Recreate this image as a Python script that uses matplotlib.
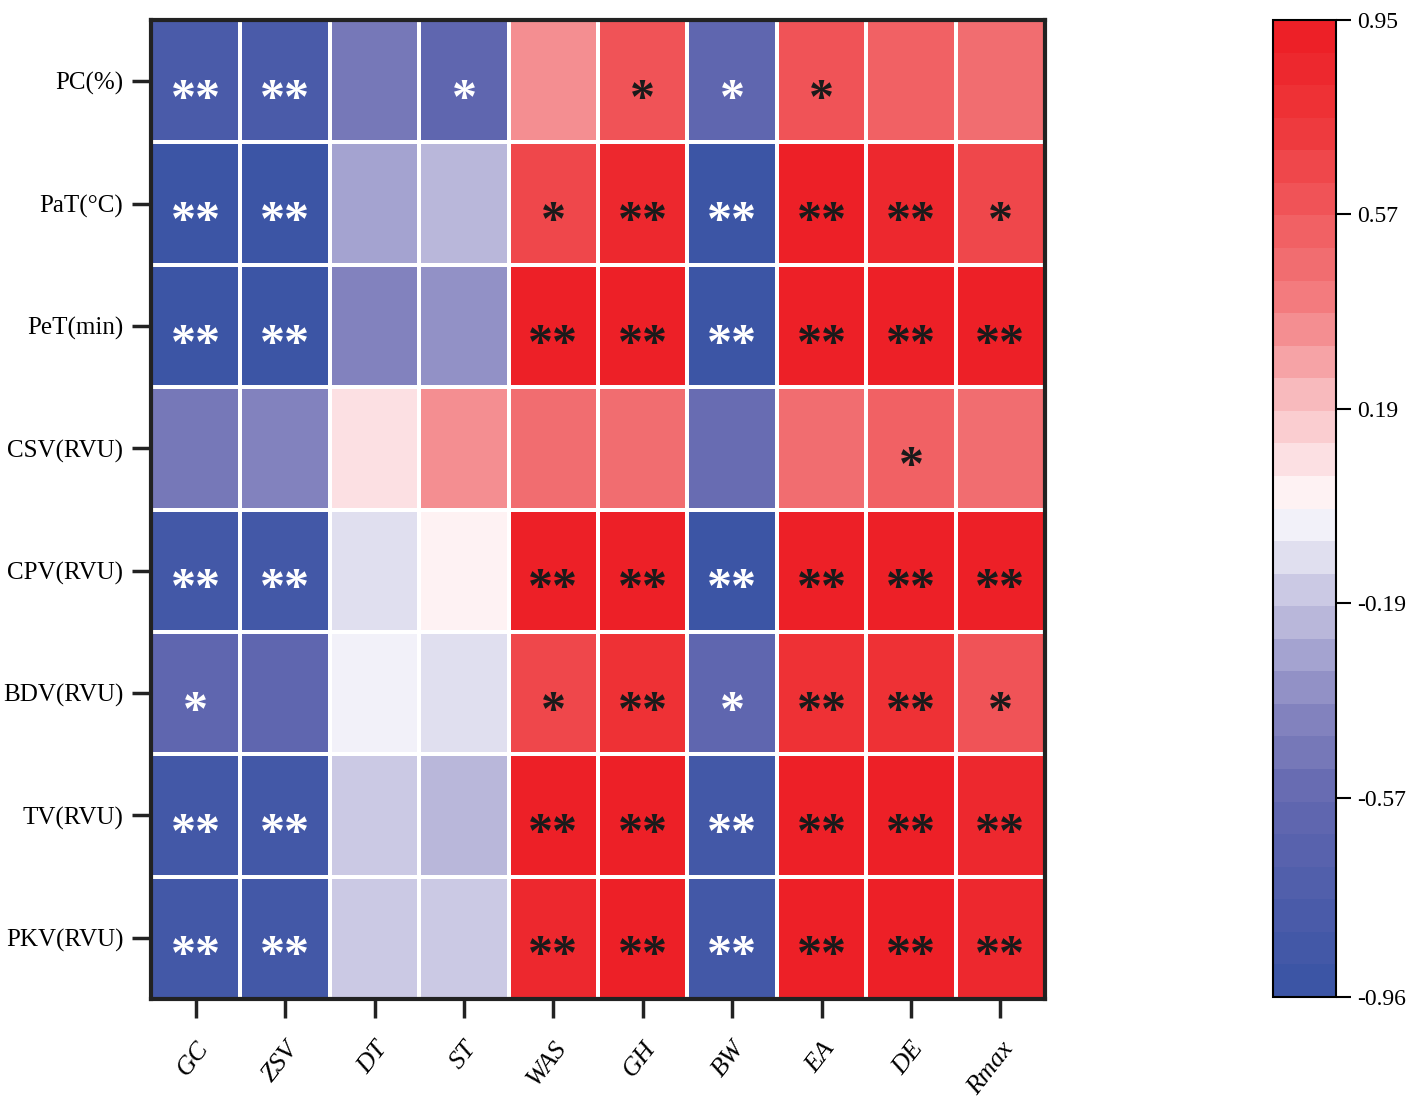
import numpy as np
import matplotlib
matplotlib.use("Agg")
import matplotlib.pyplot as plt
from matplotlib.colors import LinearSegmentedColormap, ListedColormap

plt.rcParams["font.family"] = ["Liberation Serif", "DejaVu Serif"]
plt.rcParams["axes.unicode_minus"] = False

# filas y columnas del mapa de correlacion
rows = ["PC(%)", "PaT(°C)", "PeT(min)", "CSV(RVU)", "CPV(RVU)", "BDV(RVU)", "TV(RVU)", "PKV(RVU)"]
cols = ["GC", "ZSV", "DT", "ST", "WAS", "GH", "BW", "EA", "DE", "Rmax"]

r_pc  = [-0.82, -0.82, -0.50, -0.64, 0.33, 0.60, -0.64, 0.60, 0.53, 0.45]
r_pat = [-0.92, -0.92, -0.28, -0.22, 0.68, 0.85, -0.92, 0.90, 0.85, 0.68]
r_pet = [-0.92, -0.92, -0.42, -0.35, 0.90, 0.90, -0.93, 0.93, 0.93, 0.90]
r_csv = [-0.50, -0.42, 0.08, 0.33, 0.45, 0.45, -0.57, 0.45, 0.53, 0.45]
r_cpv = [-0.88, -0.88, -0.09, 0.01, 0.90, 0.90, -0.93, 0.93, 0.90, 0.90]
r_bdv = [-0.64, -0.59, -0.03, -0.09, 0.68, 0.76, -0.64, 0.76, 0.76, 0.60]
r_tv  = [-0.88, -0.88, -0.15, -0.21, 0.92, 0.92, -0.88, 0.93, 0.93, 0.88]
r_pkv = [-0.86, -0.86, -0.15, -0.15, 0.85, 0.91, -0.86, 0.93, 0.93, 0.84]

# asteriscos de significancia
s_pc  = ["**", "**", "", "*", "", "*", "*", "*", "", ""]
s_pat = ["**", "**", "", "", "*", "**", "**", "**", "**", "*"]
s_pet = ["**", "**", "", "", "**", "**", "**", "**", "**", "**"]
s_csv = ["", "", "", "", "", "", "", "", "*", ""]
s_cpv = ["**", "**", "", "", "**", "**", "**", "**", "**", "**"]
s_bdv = ["*", "", "", "", "*", "**", "*", "**", "**", "*"]
s_tv  = ["**", "**", "", "", "**", "**", "**", "**", "**", "**"]
s_pkv = ["**", "**", "", "", "**", "**", "**", "**", "**", "**"]

cbar_ticks = [0.95, 0.57, 0.19, -0.19, -0.57, -0.96]
vmin, vmax = -0.96, 0.95

values = np.array([r_pc, r_pat, r_pet, r_csv, r_cpv, r_bdv, r_tv, r_pkv])
stars = [s_pc, s_pat, s_pet, s_csv, s_cpv, s_bdv, s_tv, s_pkv]

# mapa de color azul-blanco-rojo en 30 bandas
anchors = [(-0.96, "#3953A4"), (-0.57, "#6468B0"), (-0.38, "#8A89C2"),
           (-0.19, "#C4C2E0"), (-0.03, "#F5F4FA"), (0.0, "#FFFAFA"),
           (0.10, "#FCDDE0"), (0.19, "#F9C3C6"), (0.38, "#F38184"),
           (0.57, "#F05A5E"), (0.76, "#EE3539"), (0.95, "#ED1C24")]
smooth = LinearSegmentedColormap.from_list(
    "bwr_prism", [((v - vmin) / (vmax - vmin), c) for v, c in anchors])
cmap = ListedColormap(smooth((np.arange(30) + 0.5) / 30))

fig = plt.figure(figsize=(14.17, 11.11), dpi=100)
ax = fig.add_axes([0.1066, 0.1008, 0.6309, 0.8812])
mesh = ax.pcolormesh(values, cmap=cmap, vmin=vmin, vmax=vmax,
                     edgecolors="white", linewidth=1.5)
ax.set_xlim(0, len(cols))
ax.set_ylim(len(rows), 0)

for i in range(len(rows)):
    for j in range(len(cols)):
        if stars[i][j]:
            color = "white" if values[i, j] < 0 else "#1a1a1a"
            ax.text(j + 0.5, i + 0.66, stars[i][j], ha="center", va="center",
                    fontsize=36, fontweight="bold", color=color,
                    family="Liberation Serif")

ax.set_xticks(np.arange(len(cols)) + 0.5)
ax.set_yticks(np.arange(len(rows)) + 0.5)
ax.set_xticklabels(cols, rotation=52, ha="right", rotation_mode="anchor",
                   fontsize=19, style="italic")
ax.set_yticklabels(rows, fontsize=18)
ax.tick_params(axis="both", length=14, width=2.5, color="#222222")
ax.tick_params(axis="x", pad=14)
ax.tick_params(axis="y", pad=6)
for lbl in ax.get_xticklabels():
    lbl.set_x(lbl.get_position()[0])
for sp in ax.spines.values():
    sp.set_linewidth(3)
    sp.set_color("#222222")

cax = fig.add_axes([0.8984, 0.1026, 0.0445, 0.8794])
cb = fig.colorbar(mesh, cax=cax)
cb.set_ticks(cbar_ticks)
cb.set_ticklabels([f"{t:.2f}" for t in cbar_ticks])
cb.ax.tick_params(length=11, width=1.5, labelsize=17, pad=4)
cb.outline.set_linewidth(1.5)

fig.savefig("out.png", dpi=100)
plt.close(fig)
